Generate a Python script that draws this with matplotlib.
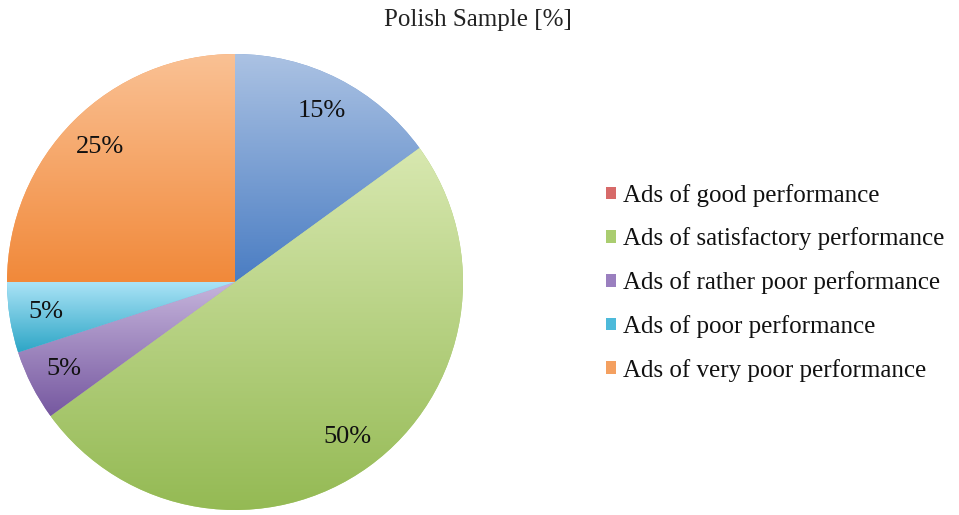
import numpy as np
import matplotlib
matplotlib.use("Agg")
import matplotlib.pyplot as plt
from matplotlib.colors import LinearSegmentedColormap

plt.rcParams['font.family'] = ['Liberation Serif', 'DejaVu Serif']

categories = [
    "Ads of very good performance",
    "Ads of good performance",
    "Ads of satisfactory performance",
    "Ads of rather poor performance",
    "Ads of poor performance",
    "Ads of very poor performance",
]
shares = [15, 0, 50, 5, 5, 25]
# (top, bottom) colours of the vertical gradient in each slice
top_colors = ["#abc2e3", "#eaa3a2", "#d8e8b0", "#c6b5dc", "#ace4f7", "#fac194"]
bottom_colors = ["#4a7dc3", "#c24d4b", "#93b952", "#7658a0", "#2ea6c6", "#f1893a"]
legend_colors = ["#7a9fd4", "#d76a69", "#aacd70", "#9a7fbf", "#4dbada", "#f4a060"]
title = "Polish Sample [%]"

fig = plt.figure(figsize=(9.59, 5.15), dpi=100)
R_px = 228
cx, cy = 235, 282
ax = fig.add_axes([(cx - R_px) / 959, (515 - cy - R_px) / 515,
                   2 * R_px / 959, 2 * R_px / 515])

wedges, texts, autotexts = ax.pie(
    shares, startangle=90, counterclock=False, colors=legend_colors,
    autopct=lambda p: f"{p:.0f}%" if p > 0.5 else "",
    pctdistance=0.84, labeldistance=None,
    wedgeprops=dict(linewidth=0),
    textprops=dict(fontsize=19, color="#111111"),
)
ax.set_aspect("equal")
ax.axis("off")

# vertical gradient fill clipped to each slice
for w, ct, cb, val in zip(wedges, top_colors, bottom_colors, shares):
    if val <= 0:
        continue
    verts = w.get_path().vertices
    y0, y1 = verts[:, 1].min(), verts[:, 1].max()
    x0, x1 = verts[:, 0].min(), verts[:, 0].max()
    cmap = LinearSegmentedColormap.from_list("g", [cb, ct])
    grad = np.linspace(0, 1, 256).reshape(-1, 1)
    im = ax.imshow(grad, cmap=cmap, aspect="auto", origin="lower",
                   extent=(x0, x1, y0, y1), zorder=w.get_zorder() + 0.1,
                   interpolation="bilinear")
    im.set_clip_path(w)
for t in autotexts:
    t.set_zorder(5)
ax.set_xlim(-1, 1)
ax.set_ylim(-1, 1)

fig.text(0.498, 0.962, title, ha="center", va="center", fontsize=18, color="#222222")

leg = fig.legend(
    wedges[1:], categories[1:], loc="center left",
    bbox_to_anchor=(0.614, 0.451), frameon=False, fontsize=18,
    handlelength=0.4, handleheight=0.4, handletextpad=0.25, labelspacing=0.83,
    borderpad=0.2,
)
for txt in leg.get_texts():
    txt.set_color("#111111")

fig.savefig("out.png", dpi=100)
